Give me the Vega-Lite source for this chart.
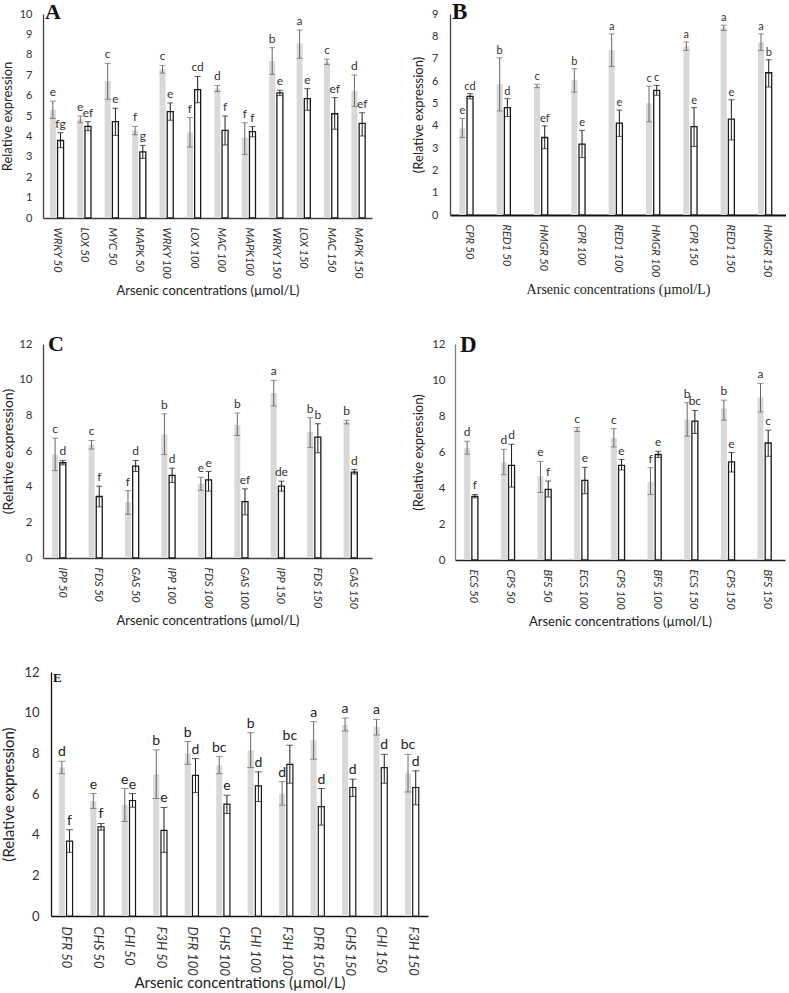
{
  "$schema": "https://vega.github.io/schema/vega-lite/v6.json",
  "padding": {"left": 1, "top": 1, "right": 0, "bottom": 0},
  "config": {
    "view": {"stroke": null},
    "axis": {"grid": false, "ticks": false, "labelFont": "Lato", "titleFont": "Lato", "labelColor": "#333333", "titleColor": "#222222", "titleFontWeight": "normal", "domainColor": "#404040", "domainWidth": 1.3, "labelOverlap": false},
    "title": {"font": "Liberation Serif", "fontWeight": "bold", "color": "#111111", "anchor": "start", "baseline": "alphabetic", "frame": "group"}
  },
  "datasets": {
    "A": [
      {"g":"WRKY 50","s":"S1","v":5.3,"lo":4.88,"hi":5.73,"l":"e"},{"g":"WRKY 50","s":"S2","v":3.8,"lo":3.45,"hi":4.18,"l":"fg"},
      {"g":"LOX 50","s":"S1","v":4.84,"lo":4.67,"hi":5.0,"l":"e"},{"g":"LOX 50","s":"S2","v":4.49,"lo":4.28,"hi":4.72,"l":"ef"},
      {"g":"MYC 50","s":"S1","v":6.72,"lo":5.82,"hi":7.58,"l":"c"},{"g":"MYC 50","s":"S2","v":4.72,"lo":4.05,"hi":5.38,"l":"e"},
      {"g":"MAPK 50","s":"S1","v":4.28,"lo":4.08,"hi":4.49,"l":"f"},{"g":"MAPK 50","s":"S2","v":3.24,"lo":2.92,"hi":3.56,"l":"g"},
      {"g":"WRKY 100","s":"S1","v":7.29,"lo":7.1,"hi":7.48,"l":"c"},{"g":"WRKY 100","s":"S2","v":5.21,"lo":4.79,"hi":5.64,"l":"e"},
      {"g":"LOX 100","s":"S1","v":4.2,"lo":3.48,"hi":4.92,"l":"f"},{"g":"LOX 100","s":"S2","v":6.29,"lo":5.65,"hi":6.94,"l":"cd"},
      {"g":"MAC 100","s":"S1","v":6.35,"lo":6.2,"hi":6.5,"l":"d"},{"g":"MAC 100","s":"S2","v":4.3,"lo":3.58,"hi":5.0,"l":"f"},
      {"g":"MAPK100","s":"S1","v":3.94,"lo":3.12,"hi":4.67,"l":"f"},{"g":"MAPK100","s":"S2","v":4.23,"lo":3.98,"hi":4.48,"l":"f"},
      {"g":"WRKY 150","s":"S1","v":7.7,"lo":7.04,"hi":8.35,"l":"b"},{"g":"WRKY 150","s":"S2","v":6.13,"lo":6.0,"hi":6.26,"l":"e"},
      {"g":"LOX 150","s":"S1","v":8.55,"lo":7.83,"hi":9.22,"l":"a"},{"g":"LOX 150","s":"S2","v":5.85,"lo":5.28,"hi":6.34,"l":"e"},
      {"g":"MAC 150","s":"S1","v":7.65,"lo":7.52,"hi":7.78,"l":"c"},{"g":"MAC 150","s":"S2","v":5.11,"lo":4.35,"hi":5.9,"l":"ef"},
      {"g":"MAPK 150","s":"S1","v":6.23,"lo":5.47,"hi":7.01,"l":"d"},{"g":"MAPK 150","s":"S2","v":4.64,"lo":4.02,"hi":5.16,"l":"ef"}
    ],
    "B": [
      {"g":"CPR 50","s":"S1","v":3.88,"lo":3.47,"hi":4.33,"l":"e"},{"g":"CPR 50","s":"S2","v":5.31,"lo":5.2,"hi":5.43,"l":"cd"},
      {"g":"RED1 50","s":"S1","v":5.85,"lo":4.66,"hi":7.04,"l":"b"},{"g":"RED1 50","s":"S2","v":4.81,"lo":4.41,"hi":5.21,"l":"d"},
      {"g":"HMGR 50","s":"S1","v":5.77,"lo":5.7,"hi":5.85,"l":"c"},{"g":"HMGR 50","s":"S2","v":3.47,"lo":2.97,"hi":3.99,"l":"ef"},
      {"g":"CPR 100","s":"S1","v":6.03,"lo":5.5,"hi":6.55,"l":"b"},{"g":"CPR 100","s":"S2","v":3.17,"lo":2.57,"hi":3.79,"l":"e"},
      {"g":"RED1 100","s":"S1","v":7.38,"lo":6.65,"hi":8.11,"l":"a"},{"g":"RED1 100","s":"S2","v":4.11,"lo":3.52,"hi":4.7,"l":"e"},
      {"g":"HMGR 100","s":"S1","v":5.0,"lo":4.17,"hi":5.77,"l":"c"},{"g":"HMGR 100","s":"S2","v":5.58,"lo":5.36,"hi":5.8,"l":"c"},
      {"g":"CPR 150","s":"S1","v":7.56,"lo":7.37,"hi":7.75,"l":"a"},{"g":"CPR 150","s":"S2","v":3.96,"lo":3.07,"hi":4.81,"l":"e"},
      {"g":"RED1 150","s":"S1","v":8.38,"lo":8.26,"hi":8.5,"l":"a"},{"g":"RED1 150","s":"S2","v":4.29,"lo":3.36,"hi":5.16,"l":"e"},
      {"g":"HMGR 150","s":"S1","v":7.74,"lo":7.37,"hi":8.11,"l":"a"},{"g":"HMGR 150","s":"S2","v":6.37,"lo":5.73,"hi":6.95,"l":"b"}
    ],
    "C": [
      {"g":"IPP 50","s":"S1","v":5.8,"lo":4.9,"hi":6.72,"l":"c"},{"g":"IPP 50","s":"S2","v":5.34,"lo":5.22,"hi":5.47,"l":"d"},
      {"g":"FDS 50","s":"S1","v":6.35,"lo":6.11,"hi":6.59,"l":"c"},{"g":"FDS 50","s":"S2","v":3.45,"lo":2.87,"hi":4.03,"l":"f"},
      {"g":"GAS 50","s":"S1","v":3.13,"lo":2.45,"hi":3.78,"l":"f"},{"g":"GAS 50","s":"S2","v":5.15,"lo":4.85,"hi":5.47,"l":"d"},
      {"g":"IPP 100","s":"S1","v":6.93,"lo":5.8,"hi":8.09,"l":"b"},{"g":"IPP 100","s":"S2","v":4.63,"lo":4.23,"hi":5.04,"l":"d"},
      {"g":"FDS 100","s":"S1","v":4.16,"lo":3.8,"hi":4.53,"l":"e"},{"g":"FDS 100","s":"S2","v":4.38,"lo":3.75,"hi":4.85,"l":"e"},
      {"g":"GAS 100","s":"S1","v":7.47,"lo":6.87,"hi":8.13,"l":"b"},{"g":"GAS 100","s":"S2","v":3.16,"lo":2.42,"hi":3.88,"l":"ef"},
      {"g":"IPP 150","s":"S1","v":9.25,"lo":8.52,"hi":9.96,"l":"a"},{"g":"IPP 150","s":"S2","v":4.03,"lo":3.75,"hi":4.31,"l":"de"},
      {"g":"FDS 150","s":"S1","v":7.06,"lo":6.2,"hi":7.87,"l":"b"},{"g":"FDS 150","s":"S2","v":6.78,"lo":5.9,"hi":7.53,"l":"b"},
      {"g":"GAS 150","s":"S1","v":7.62,"lo":7.52,"hi":7.72,"l":"b"},{"g":"GAS 150","s":"S2","v":4.81,"lo":4.71,"hi":4.96,"l":"d"}
    ],
    "D": [
      {"g":"ECS 50","s":"S1","v":6.23,"lo":5.88,"hi":6.6,"l":"d"},{"g":"ECS 50","s":"S2","v":3.53,"lo":3.45,"hi":3.64,"l":"f"},
      {"g":"CPS 50","s":"S1","v":5.41,"lo":4.74,"hi":6.15,"l":"d"},{"g":"CPS 50","s":"S2","v":5.26,"lo":4.05,"hi":6.43,"l":"d"},
      {"g":"BFS 50","s":"S1","v":4.65,"lo":3.75,"hi":5.48,"l":"e"},{"g":"BFS 50","s":"S2","v":3.92,"lo":3.5,"hi":4.39,"l":"f"},
      {"g":"ECS 100","s":"S1","v":7.25,"lo":7.14,"hi":7.36,"l":"c"},{"g":"ECS 100","s":"S2","v":4.42,"lo":3.68,"hi":5.15,"l":"e"},
      {"g":"CPS 100","s":"S1","v":6.78,"lo":6.28,"hi":7.3,"l":"c"},{"g":"CPS 100","s":"S2","v":5.26,"lo":5.0,"hi":5.58,"l":"e"},
      {"g":"BFS 100","s":"S1","v":4.35,"lo":3.64,"hi":5.13,"l":"f"},{"g":"BFS 100","s":"S2","v":5.86,"lo":5.7,"hi":6.04,"l":"e"},
      {"g":"ECS 150","s":"S1","v":7.81,"lo":6.88,"hi":8.74,"l":"b"},{"g":"ECS 150","s":"S2","v":7.71,"lo":7.03,"hi":8.31,"l":"bc"},
      {"g":"CPS 150","s":"S1","v":8.42,"lo":7.77,"hi":8.88,"l":"b"},{"g":"CPS 150","s":"S2","v":5.45,"lo":4.89,"hi":5.97,"l":"e"},
      {"g":"BFS 150","s":"S1","v":9.03,"lo":8.23,"hi":9.81,"l":"a"},{"g":"BFS 150","s":"S2","v":6.5,"lo":5.76,"hi":7.21,"l":"c"}
    ],
    "E": [
      {"g":"DFR 50","s":"S1","v":7.3,"lo":7.0,"hi":7.61,"l":"d"},{"g":"DFR 50","s":"S2","v":3.68,"lo":3.13,"hi":4.24,"l":"f"},
      {"g":"CHS 50","s":"S1","v":5.65,"lo":5.29,"hi":6.02,"l":"e"},{"g":"CHS 50","s":"S2","v":4.39,"lo":4.22,"hi":4.55,"l":"f"},
      {"g":"CHI 50","s":"S1","v":5.47,"lo":4.65,"hi":6.27,"l":"e"},{"g":"CHI 50","s":"S2","v":5.68,"lo":5.35,"hi":6.02,"l":"e"},
      {"g":"F3H 50","s":"S1","v":6.97,"lo":5.78,"hi":8.17,"l":"b"},{"g":"F3H 50","s":"S2","v":4.21,"lo":3.13,"hi":5.34,"l":"e"},
      {"g":"DFR 100","s":"S1","v":8.0,"lo":7.46,"hi":8.58,"l":"b"},{"g":"DFR 100","s":"S2","v":6.92,"lo":6.07,"hi":7.74,"l":"d"},
      {"g":"CHS 100","s":"S1","v":7.41,"lo":7.0,"hi":7.84,"l":"bc"},{"g":"CHS 100","s":"S2","v":5.5,"lo":5.04,"hi":5.94,"l":"e"},
      {"g":"CHI 100","s":"S1","v":8.15,"lo":7.3,"hi":9.02,"l":"b"},{"g":"CHI 100","s":"S2","v":6.4,"lo":5.63,"hi":7.09,"l":"d"},
      {"g":"F3H 100","s":"S1","v":6.02,"lo":5.45,"hi":6.61,"l":"d"},{"g":"F3H 100","s":"S2","v":7.46,"lo":6.53,"hi":8.4,"l":"bc"},
      {"g":"DFR 150","s":"S1","v":8.64,"lo":7.71,"hi":9.56,"l":"a"},{"g":"DFR 150","s":"S2","v":5.38,"lo":4.47,"hi":6.27,"l":"d"},
      {"g":"CHS 150","s":"S1","v":9.39,"lo":9.1,"hi":9.74,"l":"a"},{"g":"CHS 150","s":"S2","v":6.32,"lo":5.88,"hi":6.73,"l":"d"},
      {"g":"CHI 150","s":"S1","v":9.31,"lo":8.9,"hi":9.67,"l":"a"},{"g":"CHI 150","s":"S2","v":7.3,"lo":6.53,"hi":7.95,"l":"d"},
      {"g":"F3H 150","s":"S1","v":7.02,"lo":6.1,"hi":7.95,"l":"bc"},{"g":"F3H 150","s":"S2","v":6.32,"lo":5.47,"hi":7.14,"l":"d"}
    ]
  },
  "columns": 1,
  "align": "none",
  "spacing": 37,
  "concat": [
    {
      "columns": 1,
      "align": "none",
      "spacing": 35,
      "concat": [
        {
          "hconcat": [
            {
              "width": 329, "height": 204,
              "title": {"text": "A", "fontSize": 22, "offset": -16, "dx": 2},
              "data": {"name": "A"},
              "encoding": {
                "x": {"field": "g", "type": "nominal", "sort": null, "scale": {"paddingInner": 0.5, "paddingOuter": 0.25},
                      "axis": {"title": "Arsenic concentrations (µmol/L)", "labelAngle": 90, "labelFontStyle": "italic", "labelFontSize": 11, "labelPadding": 9, "titlePadding": 6, "titleFontSize": 13}},
                "xOffset": {"field": "s", "type": "nominal", "scale": {"paddingInner": 0.22}}
              },
              "layer": [
                {"mark": {"type": "bar", "strokeWidth": 1.3},
                 "encoding": {"y": {"field": "v", "type": "quantitative", "title": "Relative expression", "scale": {"domain": [0, 10]},
                                    "axis": {"values": [0,1,2,3,4,5,6,7,8,9,10], "labelFontSize": 11, "labelPadding": 11, "titlePadding": 5, "titleFontSize": 13}},
                              "fill": {"field": "s", "type": "nominal", "scale": {"range": ["#d9d9d9", "#ffffff"]}, "legend": null},
                              "stroke": {"field": "s", "type": "nominal", "scale": {"range": ["transparent", "#1a1a1a"]}, "legend": null}}},
                {"mark": {"type": "rule", "strokeWidth": 1},
                 "encoding": {"y": {"field": "lo", "type": "quantitative", "title": "Relative expression", "axis": {"values": [0,1,2,3,4,5,6,7,8,9,10], "labelFontSize": 11, "labelPadding": 11, "titlePadding": 5, "titleFontSize": 13}}, "y2": {"field": "hi"},
                              "color": {"field": "s", "type": "nominal", "scale": {"range": ["#666666", "#1a1a1a"]}, "legend": null}}},
                {"mark": {"type": "tick", "size": 6, "thickness": 1},
                 "encoding": {"y": {"field": "lo", "type": "quantitative", "title": "Relative expression", "axis": {"values": [0,1,2,3,4,5,6,7,8,9,10], "labelFontSize": 11, "labelPadding": 11, "titlePadding": 5, "titleFontSize": 13}},
                              "color": {"field": "s", "type": "nominal", "legend": null}}},
                {"mark": {"type": "tick", "size": 6, "thickness": 1},
                 "encoding": {"y": {"field": "hi", "type": "quantitative", "title": "Relative expression", "axis": {"values": [0,1,2,3,4,5,6,7,8,9,10], "labelFontSize": 11, "labelPadding": 11, "titlePadding": 5, "titleFontSize": 13}},
                              "color": {"field": "s", "type": "nominal", "legend": null}}},
                {"mark": {"type": "text", "baseline": "bottom", "dy": -2, "fontSize": 12, "font": "Lato", "color": "#333333"},
                 "encoding": {"y": {"field": "hi", "type": "quantitative", "title": "Relative expression", "axis": {"values": [0,1,2,3,4,5,6,7,8,9,10], "labelFontSize": 11, "labelPadding": 11, "titlePadding": 5, "titleFontSize": 13}}, "text": {"field": "l"}}}
              ]
            },
            {
              "width": 336, "height": 201,
              "title": {"text": "B", "fontSize": 23, "offset": -16, "dx": 2},
              "data": {"name": "B"},
              "encoding": {
                "x": {"field": "g", "type": "nominal", "sort": null, "scale": {"paddingInner": 0.5, "paddingOuter": 0.25},
                      "axis": {"title": "Arsenic concentrations (µmol/L)", "labelAngle": 90, "labelFontStyle": "italic", "labelFontSize": 11, "labelPadding": 9, "titlePadding": 6, "titleFontSize": 14, "titleFont": "Liberation Serif", "domainColor": "#111111", "domainWidth": 2}},
                "xOffset": {"field": "s", "type": "nominal", "scale": {"paddingInner": 0.22}}
              },
              "layer": [
                {"mark": {"type": "bar", "strokeWidth": 1.3},
                 "encoding": {"y": {"field": "v", "type": "quantitative", "title": "(Relative expression)", "scale": {"domain": [0, 9]},
                                    "axis": {"values": [0,1,2,3,4,5,6,7,8,9], "labelFontSize": 11, "labelPadding": 12, "titlePadding": 6, "titleFontSize": 13}},
                              "fill": {"field": "s", "type": "nominal", "scale": {"range": ["#d9d9d9", "#ffffff"]}, "legend": null},
                              "stroke": {"field": "s", "type": "nominal", "scale": {"range": ["transparent", "#1a1a1a"]}, "legend": null}}},
                {"mark": {"type": "rule", "strokeWidth": 1},
                 "encoding": {"y": {"field": "lo", "type": "quantitative", "title": "(Relative expression)", "axis": {"values": [0,1,2,3,4,5,6,7,8,9], "labelFontSize": 11, "labelPadding": 12, "titlePadding": 6, "titleFontSize": 13}}, "y2": {"field": "hi"},
                              "color": {"field": "s", "type": "nominal", "scale": {"range": ["#666666", "#1a1a1a"]}, "legend": null}}},
                {"mark": {"type": "tick", "size": 6, "thickness": 1},
                 "encoding": {"y": {"field": "lo", "type": "quantitative", "title": "(Relative expression)", "axis": {"values": [0,1,2,3,4,5,6,7,8,9], "labelFontSize": 11, "labelPadding": 12, "titlePadding": 6, "titleFontSize": 13}},
                              "color": {"field": "s", "type": "nominal", "legend": null}}},
                {"mark": {"type": "tick", "size": 6, "thickness": 1},
                 "encoding": {"y": {"field": "hi", "type": "quantitative", "title": "(Relative expression)", "axis": {"values": [0,1,2,3,4,5,6,7,8,9], "labelFontSize": 11, "labelPadding": 12, "titlePadding": 6, "titleFontSize": 13}},
                              "color": {"field": "s", "type": "nominal", "legend": null}}},
                {"mark": {"type": "text", "baseline": "bottom", "dy": -2, "fontSize": 11, "font": "Lato", "color": "#333333"},
                 "encoding": {"y": {"field": "hi", "type": "quantitative", "title": "(Relative expression)", "axis": {"values": [0,1,2,3,4,5,6,7,8,9], "labelFontSize": 11, "labelPadding": 12, "titlePadding": 6, "titleFontSize": 13}}, "text": {"field": "l"}}}
              ]
            }
          ],
          "spacing": 40
        },
        {
          "hconcat": [
            {
              "width": 329, "height": 214,
              "title": {"text": "C", "fontSize": 22, "offset": -18, "dx": 5},
              "data": {"name": "C"},
              "encoding": {
                "x": {"field": "g", "type": "nominal", "sort": null, "scale": {"paddingInner": 0.47, "paddingOuter": 0.25},
                      "axis": {"title": "Arsenic concentrations (µmol/L)", "labelAngle": 90, "labelFontStyle": "italic", "labelFontSize": 11, "labelPadding": 9, "titlePadding": 6, "titleFontSize": 13}},
                "xOffset": {"field": "s", "type": "nominal", "scale": {"paddingInner": 0.22}}
              },
              "layer": [
                {"mark": {"type": "bar", "strokeWidth": 1.3},
                 "encoding": {"y": {"field": "v", "type": "quantitative", "title": "(Relative expression)", "scale": {"domain": [0, 12]},
                                    "axis": {"values": [0,2,4,6,8,10,12], "labelFontSize": 11.5, "labelPadding": 11, "titlePadding": 3.5, "titleFontSize": 14}},
                              "fill": {"field": "s", "type": "nominal", "scale": {"range": ["#d9d9d9", "#ffffff"]}, "legend": null},
                              "stroke": {"field": "s", "type": "nominal", "scale": {"range": ["transparent", "#1a1a1a"]}, "legend": null}}},
                {"mark": {"type": "rule", "strokeWidth": 1},
                 "encoding": {"y": {"field": "lo", "type": "quantitative", "title": "(Relative expression)", "axis": {"values": [0,2,4,6,8,10,12], "labelFontSize": 11.5, "labelPadding": 11, "titlePadding": 3.5, "titleFontSize": 14}}, "y2": {"field": "hi"},
                              "color": {"field": "s", "type": "nominal", "scale": {"range": ["#666666", "#1a1a1a"]}, "legend": null}}},
                {"mark": {"type": "tick", "size": 6, "thickness": 1},
                 "encoding": {"y": {"field": "lo", "type": "quantitative", "title": "(Relative expression)", "axis": {"values": [0,2,4,6,8,10,12], "labelFontSize": 11.5, "labelPadding": 11, "titlePadding": 3.5, "titleFontSize": 14}},
                              "color": {"field": "s", "type": "nominal", "legend": null}}},
                {"mark": {"type": "tick", "size": 6, "thickness": 1},
                 "encoding": {"y": {"field": "hi", "type": "quantitative", "title": "(Relative expression)", "axis": {"values": [0,2,4,6,8,10,12], "labelFontSize": 11.5, "labelPadding": 11, "titlePadding": 3.5, "titleFontSize": 14}},
                              "color": {"field": "s", "type": "nominal", "legend": null}}},
                {"mark": {"type": "text", "baseline": "bottom", "dy": -2, "fontSize": 12, "font": "Lato", "color": "#333333"},
                 "encoding": {"y": {"field": "hi", "type": "quantitative", "title": "(Relative expression)", "axis": {"values": [0,2,4,6,8,10,12], "labelFontSize": 11.5, "labelPadding": 11, "titlePadding": 3.5, "titleFontSize": 14}}, "text": {"field": "l"}}}
              ]
            },
            {
              "width": 330, "height": 216,
              "title": {"text": "D", "fontSize": 23, "offset": -19, "dx": 5},
              "data": {"name": "D"},
              "encoding": {
                "x": {"field": "g", "type": "nominal", "sort": null, "scale": {"paddingInner": 0.5, "paddingOuter": 0.25},
                      "axis": {"title": "Arsenic concentrations (µmol/L)", "labelAngle": 90, "labelFontStyle": "italic", "labelFontSize": 11, "labelPadding": 9, "titlePadding": 6, "titleFontSize": 13, "domainColor": "#222222"}},
                "xOffset": {"field": "s", "type": "nominal", "scale": {"paddingInner": 0.22}}
              },
              "layer": [
                {"mark": {"type": "bar", "strokeWidth": 1.3},
                 "encoding": {"y": {"field": "v", "type": "quantitative", "title": "(Relative expression)", "scale": {"domain": [0, 12]},
                                    "axis": {"values": [0,2,4,6,8,10,12], "labelFontSize": 11.5, "labelPadding": 10, "titlePadding": 6, "titleFontSize": 13, "domainColor": "#808080"}},
                              "fill": {"field": "s", "type": "nominal", "scale": {"range": ["#d9d9d9", "#ffffff"]}, "legend": null},
                              "stroke": {"field": "s", "type": "nominal", "scale": {"range": ["transparent", "#1a1a1a"]}, "legend": null}}},
                {"mark": {"type": "rule", "strokeWidth": 1},
                 "encoding": {"y": {"field": "lo", "type": "quantitative", "title": "(Relative expression)", "axis": {"values": [0,2,4,6,8,10,12], "labelFontSize": 11.5, "labelPadding": 10, "titlePadding": 6, "titleFontSize": 13, "domainColor": "#808080"}}, "y2": {"field": "hi"},
                              "color": {"field": "s", "type": "nominal", "scale": {"range": ["#666666", "#1a1a1a"]}, "legend": null}}},
                {"mark": {"type": "tick", "size": 6, "thickness": 1},
                 "encoding": {"y": {"field": "lo", "type": "quantitative", "title": "(Relative expression)", "axis": {"values": [0,2,4,6,8,10,12], "labelFontSize": 11.5, "labelPadding": 10, "titlePadding": 6, "titleFontSize": 13, "domainColor": "#808080"}},
                              "color": {"field": "s", "type": "nominal", "legend": null}}},
                {"mark": {"type": "tick", "size": 6, "thickness": 1},
                 "encoding": {"y": {"field": "hi", "type": "quantitative", "title": "(Relative expression)", "axis": {"values": [0,2,4,6,8,10,12], "labelFontSize": 11.5, "labelPadding": 10, "titlePadding": 6, "titleFontSize": 13, "domainColor": "#808080"}},
                              "color": {"field": "s", "type": "nominal", "legend": null}}},
                {"mark": {"type": "text", "baseline": "bottom", "dy": -2, "fontSize": 12, "font": "Lato", "color": "#333333"},
                 "encoding": {"y": {"field": "hi", "type": "quantitative", "title": "(Relative expression)", "axis": {"values": [0,2,4,6,8,10,12], "labelFontSize": 11.5, "labelPadding": 10, "titlePadding": 6, "titleFontSize": 13, "domainColor": "#808080"}}, "text": {"field": "l"}}}
              ]
            }
          ],
          "spacing": 40
        }
      ]
    },
    {
      "hconcat": [
        {
          "width": 1, "height": 1,
          "data": {"values": []},
          "mark": "point",
          "encoding": {}
        },
        {
          "width": 377, "height": 244,
          "title": {"text": "E", "fontSize": 13, "offset": -19, "dx": 2},
          "data": {"name": "E"},
          "encoding": {
            "x": {"field": "g", "type": "nominal", "sort": null, "scale": {"paddingInner": 0.52, "paddingOuter": 0.25},
                  "axis": {"title": "Arsenic concentrations (µmol/L)", "labelAngle": 90, "labelFontStyle": "italic", "labelFontSize": 13, "labelPadding": 10, "titlePadding": 0, "titleFontSize": 15, "domainColor": "#111111"}},
            "xOffset": {"field": "s", "type": "nominal", "scale": {"paddingInner": 0.22}}
          },
          "layer": [
            {"mark": {"type": "bar", "strokeWidth": 1.2},
             "encoding": {"y": {"field": "v", "type": "quantitative", "title": "(Relative expression)", "scale": {"domain": [0, 12]},
                                "axis": {"values": [0,2,4,6,8,10,12], "labelFontSize": 13, "labelPadding": 12, "titlePadding": 7, "titleFontSize": 15, "domainColor": "#111111"}},
                          "fill": {"field": "s", "type": "nominal", "scale": {"range": ["#d9d9d9", "#ffffff"]}, "legend": null},
                          "stroke": {"field": "s", "type": "nominal", "scale": {"range": ["transparent", "#333333"]}, "legend": null}}},
            {"mark": {"type": "rule", "strokeWidth": 1},
             "encoding": {"y": {"field": "lo", "type": "quantitative", "title": "(Relative expression)", "axis": {"values": [0,2,4,6,8,10,12], "labelFontSize": 13, "labelPadding": 12, "titlePadding": 7, "titleFontSize": 15, "domainColor": "#111111"}}, "y2": {"field": "hi"},
                          "color": {"field": "s", "type": "nominal", "scale": {"range": ["#595959", "#333333"]}, "legend": null}}},
            {"mark": {"type": "tick", "size": 7, "thickness": 1},
             "encoding": {"y": {"field": "lo", "type": "quantitative", "title": "(Relative expression)", "axis": {"values": [0,2,4,6,8,10,12], "labelFontSize": 13, "labelPadding": 12, "titlePadding": 7, "titleFontSize": 15, "domainColor": "#111111"}},
                          "color": {"field": "s", "type": "nominal", "legend": null}}},
            {"mark": {"type": "tick", "size": 7, "thickness": 1},
             "encoding": {"y": {"field": "hi", "type": "quantitative", "title": "(Relative expression)", "axis": {"values": [0,2,4,6,8,10,12], "labelFontSize": 13, "labelPadding": 12, "titlePadding": 7, "titleFontSize": 15, "domainColor": "#111111"}},
                          "color": {"field": "s", "type": "nominal", "legend": null}}},
            {"mark": {"type": "text", "baseline": "bottom", "dy": -2, "fontSize": 14, "font": "Lato", "color": "#222222"},
             "encoding": {"y": {"field": "hi", "type": "quantitative", "title": "(Relative expression)", "axis": {"values": [0,2,4,6,8,10,12], "labelFontSize": 13, "labelPadding": 12, "titlePadding": 7, "titleFontSize": 15, "domainColor": "#111111"}}, "text": {"field": "l"}}}
          ]
        }
      ],
      "spacing": -43
    }
  ]
}
